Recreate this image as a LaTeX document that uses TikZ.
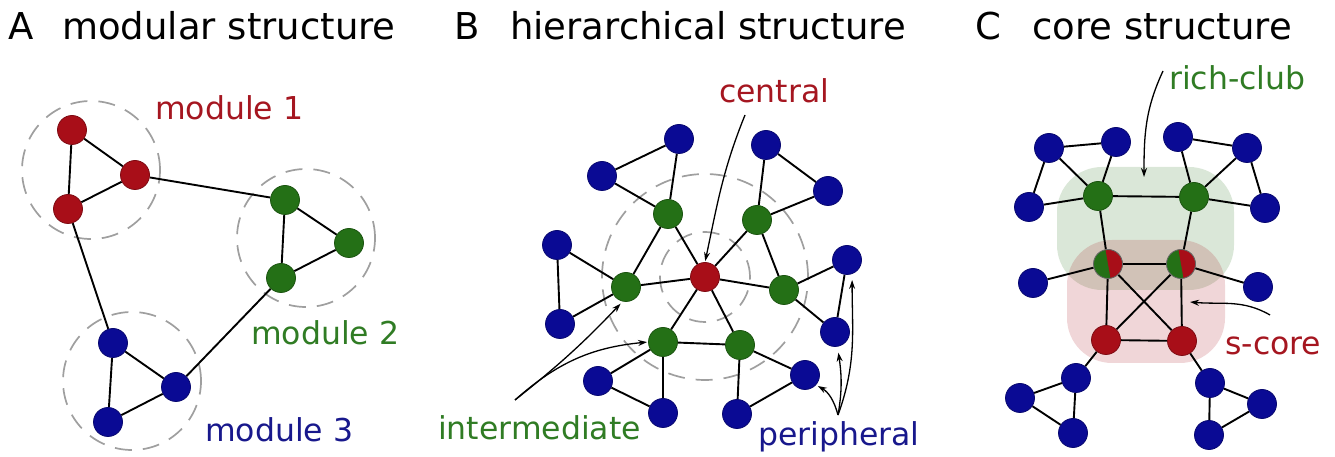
\documentclass[tikz,border=0pt]{standalone}
\usepackage{fontspec}
\setmainfont{DejaVu Sans}
\usetikzlibrary{arrows.meta,backgrounds,calc}
\definecolor{nred}{RGB}{168,14,24}
\definecolor{ngreen}{RGB}{36,112,22}
\definecolor{nblue}{RGB}{10,10,148}
\definecolor{lred}{RGB}{165,22,32}
\definecolor{lgreen}{RGB}{48,124,36}
\definecolor{lblue}{RGB}{24,24,140}
\begin{document}
\begin{tikzpicture}[x=1pt,y=1pt,
  nd/.style={circle,inner sep=0pt,minimum size=29pt,line width=0.8pt},
  rn/.style={nd,fill=nred,draw=nred!75!black},
  gn/.style={nd,fill=ngreen,draw=ngreen!75!black},
  bn/.style={nd,fill=nblue,draw=nblue!75!black},
  mn/.style={nd,fill=ngreen,draw=black!60,
    path picture={\fill[nred] ($(path picture bounding box.center)+(100:20pt)$) -- ($(path picture bounding box.center)+(280:20pt)$) -- ($(path picture bounding box.center)+(-40:30pt)$) -- ($(path picture bounding box.center)+(40:30pt)$) -- cycle;}},
  link/.style={line width=1.9pt,black},
  ring/.style={line width=1.7pt,gray!75,dash pattern=on 17pt off 11pt},
  ann/.style={line width=1.3pt,-{Stealth[length=9pt,width=6pt]}},
  title/.style={font=\fontsize{37}{40}\selectfont,anchor=base west,inner sep=0pt},
  lab/.style={font=\fontsize{31.5}{34}\selectfont,anchor=base west,inner sep=0pt},
]
\useasboundingbox (0,0) rectangle (1335,457);
% titles
\node[title] (tA) at (8,417) {A};
\node[title] (tAt) at (62,417) {modular structure};
\node[title] (tB) at (454,417) {B};
\node[title] (tBt) at (510,417) {hierarchical structure};
\node[title] (tC) at (975,417) {C};
\node[title] (tCt) at (1032,417) {core structure};

% ---------- Panel A ----------
\node[rn] (ar1) at (72,327) {};
\node[rn] (ar2) at (135,282) {};
\node[rn] (ar3) at (68,248) {};
\node[gn] (ag1) at (285,257) {};
\node[gn] (ag2) at (349,214) {};
\node[gn] (ag3) at (281,179) {};
\node[bn] (ab1) at (113,114) {};
\node[bn] (ab2) at (176,70) {};
\node[bn] (ab3) at (108,35) {};
\node[lab,text=lred] (am1) at (155,337) {module 1};
\node[lab,text=lgreen] (am2) at (251,112) {module 2};
\node[lab,text=lblue] (am3) at (205,15) {module 3};

% ---------- Panel B ----------
\node[rn] (bc) at (705,180) {};
\node[gn] (bg1) at (668,243) {};
\node[gn] (bg2) at (757,237) {};
\node[gn] (bg3) at (626,170) {};
\node[gn] (bg4) at (784,167) {};
\node[gn] (bg5) at (663,115) {};
\node[gn] (bg6) at (740,112) {};
\node[bn] (bp1) at (679,318) {};
\node[bn] (bp2) at (602,281) {};
\node[bn] (bp3) at (766,312) {};
\node[bn] (bp4) at (828,266) {};
\node[bn] (bp5) at (557,212) {};
\node[bn] (bp6) at (560,133) {};
\node[bn] (bp7) at (847,197) {};
\node[bn] (bp8) at (835,125) {};
\node[bn] (bp9) at (598,76) {};
\node[bn] (bp10) at (663,44) {};
\node[bn] (bp11) at (805,82) {};
\node[bn] (bp12) at (737,43) {};
\node[lab,text=lred] (bcl) at (719,354) {central};
\node[lab,text=lgreen] (bil) at (438,17) {intermediate};
\node[lab,text=lblue] (bpl) at (758,11) {peripheral};

% ---------- Panel C ----------
\node[gn] (cgl) at (1098,261) {};
\node[gn] (cgr) at (1194,260) {};
\node[mn] (cml) at (1108,193) {};
\node[mn] (cmr) at (1181,193) {};
\node[rn] (crl) at (1106,117) {};
\node[rn] (crr) at (1182,116) {};
\node[bn] (ct1) at (1049,309) {};
\node[bn] (ct2) at (1116,315) {};
\node[bn] (ct3) at (1029,250) {};
\node[bn] (ct4) at (1178,320) {};
\node[bn] (ct5) at (1247,309) {};
\node[bn] (ct6) at (1265,249) {};
\node[bn] (cm1) at (1033,174) {};
\node[bn] (cm2) at (1258,170) {};
\node[bn] (cb1) at (1076,79) {};
\node[bn] (cb2) at (1020,59) {};
\node[bn] (cb3) at (1073,24) {};
\node[bn] (cb4) at (1210,74) {};
\node[bn] (cb5) at (1262,53) {};
\node[bn] (cb6) at (1209,22) {};
\node[lab,text=lgreen] (crc) at (1169,367) {rich-club};
\node[lab,text=lred] (csc) at (1225,102) {s-core};

\begin{pgfonlayer}{background}
  % dashed rings
  \draw[ring] (91,287) circle (69);
  \draw[ring] (306,219) circle (69);
  \draw[ring] (132,76) circle (69);
  \draw[ring] (705,180) circle (45);
  \draw[ring] (705,180) circle (103);
  % blobs
  \fill[ngreen,opacity=0.17,rounded corners=45pt] (1057,167) rectangle (1234,290);
  \fill[nred,opacity=0.17,rounded corners=45pt] (1067,94) rectangle (1225,217);
  % A edges
  \draw[link] (ar1) -- (ar2) (ar1) -- (ar3) (ar2) -- (ar3) (ar2) -- (ag1) (ar3) -- (ab1)
              (ag1) -- (ag2) (ag1) -- (ag3) (ag2) -- (ag3) (ag3) -- (ab2)
              (ab1) -- (ab2) (ab1) -- (ab3) (ab2) -- (ab3);
  % B edges
  \draw[link] (bc) -- (bg1) (bc) -- (bg2) (bc) -- (bg3) (bc) -- (bg4) (bc) -- (bg5) (bc) -- (bg6)
              (bg1) -- (bg3) (bg2) -- (bg4) (bg5) -- (bg6)
              (bg1) -- (bp1) (bg1) -- (bp2) (bp1) -- (bp2)
              (bg2) -- (bp3) (bg2) -- (bp4) (bp3) -- (bp4)
              (bg3) -- (bp5) (bg3) -- (bp6) (bp5) -- (bp6)
              (bg4) -- (bp7) (bg4) -- (bp8) (bp7) -- (bp8)
              (bg5) -- (bp9) (bg5) -- (bp10) (bp9) -- (bp10)
              (bg6) -- (bp11) (bg6) -- (bp12) (bp11) -- (bp12);
  % C edges
  \draw[link] (ct1) -- (ct2) (ct1) -- (ct3) (ct1) -- (cgl) (ct2) -- (cgl) (ct3) -- (cgl)
              (ct4) -- (ct5) (ct5) -- (ct6) (ct5) -- (cgr) (ct4) -- (cgr) (ct6) -- (cgr)
              (cgl) -- (cgr) (cgl) -- (cml) (cgr) -- (cmr) (cml) -- (cmr)
              (cml) -- (crl) (cmr) -- (crr) (cml) -- (crr) (cmr) -- (crl) (crl) -- (crr)
              (cml) -- (cm1) (cmr) -- (cm2)
              (crl) -- (cb1) (cb1) -- (cb2) (cb1) -- (cb3) (cb2) -- (cb3)
              (crr) -- (cb4) (cb4) -- (cb5) (cb4) -- (cb6) (cb5) -- (cb6);
\end{pgfonlayer}

% annotation arrows
\coordinate (bcs) at (745,342);
\draw[ann,shorten >=1pt] (bcs) to[out=248,in=78] (bc.north);
\coordinate (bis) at (515,57);
\draw[ann,shorten >=3pt] (bis) to[bend right=4] (bg3.-103);
\draw[ann,shorten >=1pt] (bis) to[bend left=18] (bg5.west);
\coordinate (bps) at (838,42);
\draw[ann,shorten >=2pt] (bps) to[out=105,in=-30] (bp11.-42);
\draw[ann,shorten >=6pt] (bps) to[out=80,in=-82] (bp8.-80);
\draw[ann,shorten >=6pt] (bps) to[out=70,in=-90] (bp7.-70);
\coordinate (crs) at (1163,386);
\coordinate (crt) at (1144,280);
\draw[ann] (crs) to[out=245,in=90] (crt);
\coordinate (css) at (1270,142);
\coordinate (cst) at (1190,155);
\draw[ann] (css) to[out=150,in=-5] (cst);
\end{tikzpicture}
\end{document}
